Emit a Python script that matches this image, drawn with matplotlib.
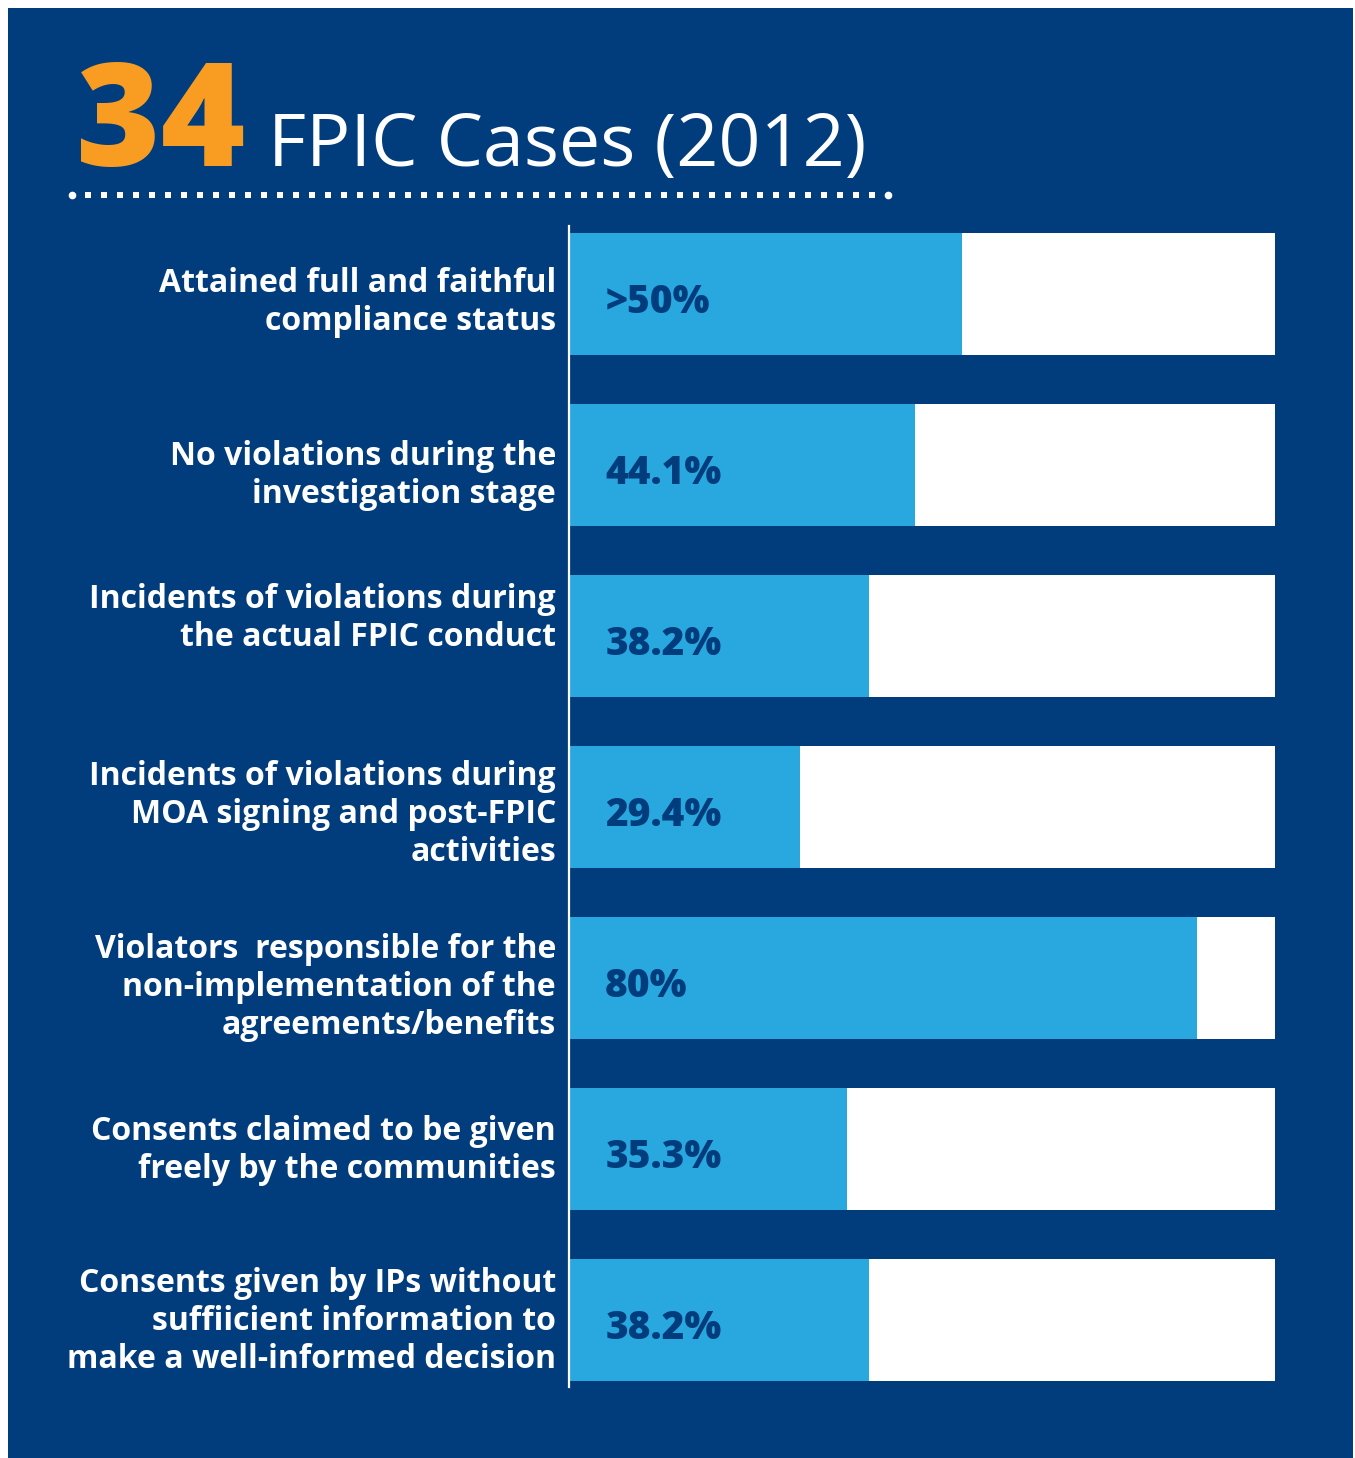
import numpy as np
import matplotlib.pyplot as plt
from matplotlib.lines import Line2D
from matplotlib.transforms import blended_transform_factory

# data
categories = [
    "Attained full and faithful\ncompliance status",
    "No violations during the\ninvestigation stage",
    "Incidents of violations during\nthe actual FPIC conduct",
    "Incidents of violations during\nMOA signing and post-FPIC\nactivities",
    "Violators  responsible for the\nnon-implementation of the\nagreements/benefits",
    "Consents claimed to be given\nfreely by the communities",
    "Consents given by IPs without\nsuffiicient information to\nmake a well-informed decision",
]
values = [50, 44.1, 38.2, 29.4, 80, 35.3, 38.2]
value_labels = [">50%", "44.1%", "38.2%", "29.4%", "80%", "35.3%", "38.2%"]
scale_max = 90
total_cases = "34"
title_text = "FPIC Cases (2012)"

# small vertical nudges of the category labels (pixels, down = positive)
label_dy = [8, 10, -18, 7, 9, 1, 1]

NAVY = "#013d7d"
SKY = "#29a8e0"
ORANGE = "#f89d21"

plt.rcParams['font.family'] = ['Open Sans', 'DejaVu Sans']

W, H = 1355, 1458
fig = plt.figure(figsize=(W / 100, H / 100), dpi=100)
fig.patch.set_facecolor("white")

# navy panel
fig.add_artist(plt.Rectangle((8 / W, 0), (1353 - 8) / W, (H - 8) / H,
                             transform=fig.transFigure, facecolor=NAVY,
                             edgecolor="none", zorder=0))

# title
fig.text(76 / W, 1 - 166 / H, total_cases, color=ORANGE, fontsize=104,
         fontweight="heavy", ha="left", va="baseline")
fig.text(268 / W, 1 - 166 / H, title_text, color="white", fontsize=53,
         ha="left", va="baseline")

# dotted rule: square dots with a round dot at each end
yr = 1 - 195 / H
dots_x = np.arange(88, 880, 16) / W
fig.add_artist(Line2D(dots_x, [yr] * len(dots_x), transform=fig.transFigure,
                      linestyle="none", marker="s", markersize=5.0,
                      color="white", markeredgewidth=0))
fig.add_artist(Line2D([72 / W, 888 / W], [yr, yr], transform=fig.transFigure,
                      linestyle="none", marker="o", markersize=5.5,
                      color="white", markeredgewidth=0))

# bars
ax_left, ax_right = 570, 1275
ax_top, ax_bot = 226, 1387
ax = fig.add_axes([ax_left / W, 1 - ax_bot / H, (ax_right - ax_left) / W,
                   (ax_bot - ax_top) / H])
ax.set_facecolor("none")
y = np.arange(len(values))
ax.barh(y, [scale_max] * len(values), height=0.713, color="white", zorder=1)
ax.barh(y, values, height=0.713, color=SKY, zorder=2)
ax.set_xlim(0, scale_max)
ax.set_ylim(6.39, -0.40)

for yi, lab in zip(y, value_labels):
    ax.text(4.5, yi + 0.05, lab, color=NAVY, fontsize=28, fontweight="heavy",
            ha="left", va="center", zorder=3)

# category labels to the left of the axis line
px = (ax_bot - ax_top) / (6.39 + 0.40)
trans = blended_transform_factory(ax.transAxes, ax.transData)
for yi, cat, dy in zip(y, categories, label_dy):
    ax.text(-14 / (ax_right - ax_left), yi + dy / px, cat, transform=trans,
            color="white", fontsize=23, fontweight="bold", linespacing=1.2,
            ha="right", va="center", clip_on=False)

ax.set_xticks([])
ax.set_yticks([])
for s in ["top", "right", "bottom"]:
    ax.spines[s].set_visible(False)
ax.spines["left"].set_color("white")
ax.spines["left"].set_linewidth(1.6)
ax.spines["left"].set_position(("outward", 1))

fig.savefig("out.png", dpi=100, facecolor=fig.get_facecolor())
